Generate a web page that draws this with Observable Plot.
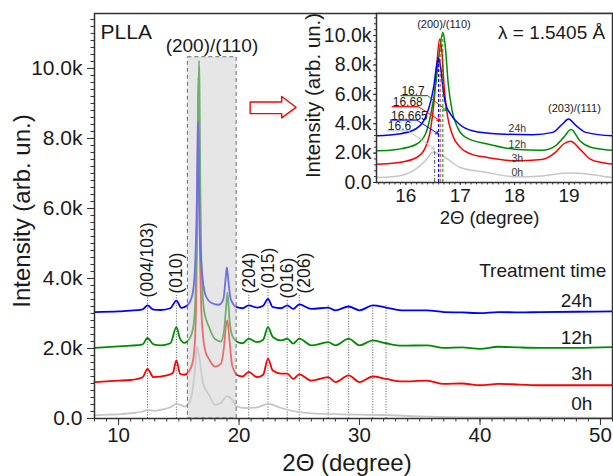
<!DOCTYPE html>
<html><head><meta charset="utf-8">
<script src="https://cdn.jsdelivr.net/npm/d3@7"></script>
<script src="https://cdn.jsdelivr.net/npm/@observablehq/plot@0.6"></script>
<style>
body{margin:0;background:#fff;}
#wrap{position:relative;width:613px;height:476px;}
#wrap svg{position:absolute;left:0;top:0;}
</style></head><body><div id="wrap"></div>
<script>
const FONT = "Liberation Sans, Arial, Helvetica, sans-serif";
const series = ["0h", "3h", "12h", "24h"];
const seriesColors = ["#c6c6c6", "#ff0000", "#008c00", "#0000ff"];

// 0h (gray)
const x0h = [8, 9, 10, 11, 12, 12.4, 13, 13.5, 14.3, 14.8, 15.2, 15.46, 15.87, 16.18, 16.36, 16.5, 16.7, 17.0, 17.5, 18.0, 18.5, 19.0, 19.4, 19.8, 20.5, 21.5, 22.4, 23.5, 25, 27, 28.5, 30, 32, 35, 40, 45, 51];
const y0h = [90, 110, 120, 150, 200, 240, 220, 250, 320, 420, 380, 340, 450, 910, 1480, 2050, 1750, 1020, 680, 390, 450, 640, 550, 340, 300, 320, 420, 300, 180, 130, 120, 110, 100, 60, 30, 30, 20];
// 3h (red)
const x3h = [8, 10, 11, 12, 12.4, 12.9, 14, 14.5, 14.8, 15.1, 15.46, 15.87, 16.2, 16.36, 16.46, 16.52, 16.57, 16.62, 16.66, 16.7, 16.76, 16.85, 17.0, 17.2, 17.5, 18.0, 18.5, 18.75, 18.9, 19.03, 19.2, 19.4, 19.6, 19.8, 20.3, 20.8, 21.5, 22.0, 22.4, 22.8, 23.5, 24.0, 24.5, 25.0, 26.0, 27.4, 28.0, 29.1, 30.0, 31.1, 32.2, 33.5, 35.6, 37, 38.5, 40, 41.5, 43.3, 45, 48, 51];
const y3h = [1040, 1080, 1100, 1180, 1420, 1180, 1230, 1300, 1660, 1280, 1250, 1360, 1700, 2390, 3750, 5570, 8070, 9750, 9000, 6700, 4660, 3300, 2390, 1930, 1700, 1480, 1570, 2050, 2620, 2800, 2270, 1570, 1360, 1250, 1200, 1330, 1180, 1250, 1710, 1370, 1280, 1280, 1130, 1260, 1080, 1180, 1040, 1230, 1040, 1200, 1130, 1060, 1080, 990, 1000, 950, 990, 970, 950, 950, 950];
// 12h (green)
const x12h = [8, 10, 11, 12, 12.4, 12.9, 13.5, 14.3, 14.8, 15.1, 15.46, 15.87, 16.2, 16.36, 16.46, 16.55, 16.62, 16.68, 16.72, 16.78, 16.85, 16.95, 17.1, 17.5, 18.0, 18.5, 18.75, 18.9, 19.04, 19.2, 19.4, 19.8, 20.3, 20.8, 21.5, 22.0, 22.4, 22.8, 23.5, 24.0, 24.5, 25.0, 26.0, 27.4, 28.0, 29.1, 30.0, 31.1, 32.2, 33.5, 35.6, 37, 38.5, 40, 41.5, 43.3, 45, 48, 51];
const y12h = [2020, 2060, 2080, 2120, 2300, 2120, 2090, 2150, 2610, 2280, 2160, 2270, 2620, 3300, 4660, 6700, 8980, 10220, 9430, 6700, 4890, 3750, 3070, 2620, 2270, 2200, 2500, 3070, 3600, 2840, 2400, 2200, 2150, 2280, 2180, 2250, 2610, 2330, 2230, 2280, 2140, 2280, 2090, 2180, 2090, 2280, 2090, 2230, 2150, 2080, 2090, 2020, 2030, 1990, 2050, 2030, 2020, 2020, 2040];
// 24h (blue)
const x24h = [8, 10, 11, 12, 12.4, 12.9, 13.5, 14.3, 14.8, 15.2, 15.46, 15.87, 16.18, 16.36, 16.46, 16.52, 16.57, 16.6, 16.64, 16.68, 16.73, 16.82, 16.98, 17.22, 17.72, 18.33, 18.7, 18.88, 18.99, 19.13, 19.31, 19.8, 20.3, 20.8, 21.5, 22.0, 22.4, 22.8, 23.5, 24.0, 24.5, 25.0, 26.0, 27.4, 28.0, 29.1, 30.0, 31.1, 32.2, 33.5, 35.6, 37, 38.5, 40, 41.5, 43.3, 45, 48, 51];
const y24h = [3040, 3060, 3080, 3120, 3230, 3110, 3100, 3150, 3370, 3160, 3180, 3300, 3640, 4430, 5570, 6700, 8070, 8480, 7840, 6480, 5340, 4660, 3980, 3520, 3300, 3250, 3410, 3980, 4320, 3870, 3410, 3180, 3150, 3230, 3170, 3220, 3420, 3180, 3150, 3230, 3130, 3260, 3130, 3170, 3090, 3200, 3090, 3230, 3170, 3090, 3090, 3040, 3030, 3010, 3040, 3030, 3040, 3050, 3060];

// axes ticks
const xTicksMain = [10, 20, 30, 40, 50];
const yTicks = [0, 2000, 4000, 6000, 8000, 10000];
const yTickLabels = ["0.0", "2.0k", "4.0k", "6.0k", "8.0k", "10.0k"];
const xTicksInset = [16, 17, 18, 19];

// reflection markers (main)
const reflX = [12.4, 14.8, 20.8, 22.4, 24.0, 25.0, 27.4, 29.1, 31.1, 32.2];
const reflTop = [3450, 3550, 3550, 3700, 3420, 3550, 3250, 3250, 3250, 3250];
const hklText = ["(004/103)", "(010)", "(204)", "(015)", "(016)", "(206)"];
const hklX = [12.43, 14.77, 20.84, 22.44, 24.03, 25.4];
const hklY = [3460, 3570, 3570, 3710, 3430, 3570];

// main time labels
const timeLabelY = [429, 1286, 2314, 3371];
// inset time labels
const insetTimeY = [682, 1595, 2549, 3681];

// zoom box (main) and arrow outline
const zoomBox = [{x1: 15.75, x2: 19.8, y1: 0, y2: 10320}];
const arrowX = [20.92, 23.54, 23.54, 24.73, 23.54, 23.54, 20.92, 20.92];
const arrowY = [9040, 9040, 9200, 8890, 8590, 8710, 8710, 9040];

// inset peak-position callouts
const calloutText = ["16.7", "16.68", "16.665", "16.6"];
const calloutSeries = ["12h", "3h", "24h", "0h"];
const calloutX1 = [15.9, 15.74, 15.71, 15.65];
const calloutX2 = [16.4, 16.23, 16.2, 16.04];
const calloutY = [5910, 5160, 4250, 3520];
const calloutTipX = [16.75, 16.63, 16.6, 16.53];
const calloutTipY = [4890, 4200, 3300, 2280];
// inset vertical peak lines
const peakLineX = [16.6, 16.63, 16.68];
const peakLineSeries = ["24h", "3h", "12h"];
const peakLineTop = [8500, 9750, 10200];
const grayPeakX = [16.53];
const grayPeakTop = [2100];

const mk = (s, xs, ys) => xs.map((x, i) => ({s, x, y: ys[i]}));
const rows = [...mk("0h", x0h, y0h), ...mk("3h", x3h, y3h), ...mk("12h", x12h, y12h), ...mk("24h", x24h, y24h)];
const refl = reflX.map((x, i) => ({x, top: reflTop[i]}));
const hkl = hklText.map((t, i) => ({t, x: hklX[i], y: hklY[i]}));
const timeMain = series.map((s, i) => ({t: s, y: timeLabelY[i]}));
const timeInset = series.map((s, i) => ({t: s, y: insetTimeY[i]}));
const arrowPts = arrowX.map((x, i) => ({x, y: arrowY[i]}));
const callouts = calloutText.map((t, i) => ({t, s: calloutSeries[i], x1: calloutX1[i], x2: calloutX2[i], y: calloutY[i], tx: calloutTipX[i], ty: calloutTipY[i]}));
const peakLines = peakLineX.map((x, i) => ({x, s: peakLineSeries[i], top: peakLineTop[i]}));
const grayPeak = grayPeakX.map((x, i) => ({x, top: grayPeakTop[i]}));
const fmtK = d => yTickLabels[yTicks.indexOf(d)];
const color = {domain: series, range: seriesColors};
const TXT = "#1a1a1a";
const AX = "#333";

const main = Plot.plot({
  width: 613, height: 476,
  marginLeft: 94, marginRight: 1, marginTop: 13, marginBottom: 58,
  x: {domain: [8, 51], label: null},
  y: {domain: [0, 11570], label: null},
  color,
  style: {fontFamily: FONT, background: "white", color: TXT},
  marks: [
    Plot.ruleX(refl, {x: "x", y1: 0, y2: "top", stroke: "#444", strokeWidth: 0.9, strokeDasharray: "1,1.6"}),
    Plot.line(rows, {x: "x", y: "y", z: "s", stroke: "s", strokeWidth: 1.8, curve: "monotone-x"}),
    Plot.rect(zoomBox, {x1: "x1", x2: "x2", y1: "y1", y2: "y2", fill: "#cfcfcf", fillOpacity: 0.53, stroke: "#6a6a6a", strokeWidth: 1, strokeDasharray: "4,3"}),
    Plot.line(arrowPts, {x: "x", y: "y", stroke: "#ff0000", strokeWidth: 1.4, fill: "white", curve: "linear"}),
    Plot.text(hkl, {x: "x", y: "y", text: "t", rotate: -90, textAnchor: "start", lineAnchor: "middle", fontSize: 17.5, fill: TXT}),
    Plot.text(["PLLA"], {x: 8.5, y: 11037, textAnchor: "start", fontSize: 21, fill: TXT}),
    Plot.text(["(200)/(110)"], {x: 17.75, y: 10657, fontSize: 19, fill: TXT}),
    Plot.text(["Treatment time"], {x: 50.48, y: 4229, textAnchor: "end", fontSize: 19, fill: TXT}),
    Plot.text(timeMain, {x: 49.33, y: "y", text: "t", textAnchor: "end", fontSize: 19, fill: TXT}),
    Plot.axisX(d3.range(8, 52, 1), {tickSize: 3.5, tickFormat: () => "", label: null, stroke: AX}),
    Plot.axisX(xTicksMain, {tickSize: 7, tickPadding: 2, fontSize: 20.5, label: null, stroke: AX, fill: TXT}),
    Plot.axisY(d3.range(0, 11570, 200), {tickSize: 3.5, tickFormat: () => "", label: null, stroke: AX}),
    Plot.axisY(yTicks, {tickSize: 7, tickPadding: 5, tickFormat: fmtK, fontSize: 21, label: null, stroke: AX, fill: TXT}),
    Plot.text(["Intensity (arb. un.)"], {frameAnchor: "left", dx: -72, dy: -5, rotate: -90, textAnchor: "middle", lineAnchor: "middle", fontSize: 24, fill: TXT}),
    Plot.text(["2\u0398 (degree)"], {frameAnchor: "bottom", dx: -6.5, dy: 45, textAnchor: "middle", lineAnchor: "middle", fontSize: 24, fill: TXT}),
    Plot.frame({stroke: AX, strokeWidth: 1.5})
  ]
});

const inset = Plot.plot({
  width: 613, height: 476,
  marginLeft: 376, marginRight: 1, marginTop: 13, marginBottom: 294,
  x: {domain: [15.46, 19.8], label: null},
  y: {domain: [0, 11500], label: null},
  color,
  style: {fontFamily: FONT, background: "transparent", color: TXT},
  marks: [
    Plot.frame({fill: "white"}),
    Plot.line(rows, {x: "x", y: "y", z: "s", stroke: "s", strokeWidth: 1.5, curve: "monotone-x", clip: true}),
    Plot.ruleX(grayPeak, {x: "x", y1: 0, y2: "top", stroke: "#555", strokeWidth: 1, strokeDasharray: "4,2,1,2"}),
    Plot.ruleX(peakLines, {x: "x", y1: 0, y2: "top", stroke: "s", strokeWidth: 1, strokeDasharray: "3,2"}),
    Plot.link(callouts, {x1: "x1", x2: "x2", y1: "y", y2: "y", stroke: "s", strokeWidth: 1.2}),
    Plot.arrow(callouts, {x1: "x2", y1: "y", x2: "tx", y2: "ty", stroke: "s", strokeWidth: 1, headLength: 5}),
    Plot.text(callouts, {x: "x1", y: "y", text: "t", textAnchor: "start", lineAnchor: "bottom", dx: 1, dy: -0.5, fontSize: 12, fill: TXT}),
    Plot.text(["(200)/(110)"], {x: 16.7, y: 10750, fontSize: 11, fill: TXT}),
    Plot.text(["(203)/(111)"], {x: 19.1, y: 5024, fontSize: 11, fill: TXT}),
    Plot.text(["\u03bb = 1.5405 \u00c5"], {x: 18.68, y: 10204, fontSize: 19, fill: TXT}),
    Plot.text(timeInset, {x: 18.05, y: "y", text: "t", fontSize: 10.5, fill: "#333"}),
    Plot.axisX(d3.range(15.5, 19.85, 0.1), {tickSize: 2.5, tickFormat: () => "", label: null, stroke: AX}),
    Plot.axisX(xTicksInset, {tickSize: 3, tickPadding: 3, fontSize: 19, label: null, stroke: AX, fill: TXT}),
    Plot.axisY(d3.range(0, 11500, 400), {tickSize: 2, tickFormat: () => "", label: null, stroke: AX}),
    Plot.axisY(yTicks, {tickSize: 3, tickPadding: 2, tickFormat: fmtK, fontSize: 19.5, label: null, stroke: AX, fill: TXT}),
    Plot.text(["Intensity (arb. un.)"], {frameAnchor: "left", dx: -63, dy: -2.5, rotate: -90, textAnchor: "middle", lineAnchor: "middle", fontSize: 20.5, fill: TXT}),
    Plot.text(["2\u0398 (degree)"], {frameAnchor: "bottom", dx: -5, dy: 36, textAnchor: "middle", lineAnchor: "middle", fontSize: 18.5, fill: TXT}),
    Plot.frame({stroke: AX, strokeWidth: 1.5})
  ]
});

const wrap = document.getElementById("wrap");
wrap.appendChild(main);
wrap.appendChild(inset);
</script></body></html>
